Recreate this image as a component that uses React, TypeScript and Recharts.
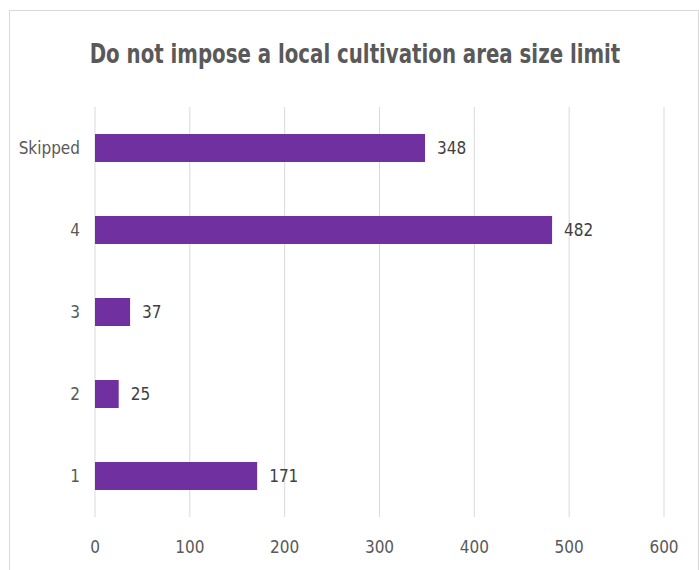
import React from "react";
import { BarChart, Bar, XAxis, YAxis, CartesianGrid, LabelList } from "recharts";

const title = "Do not impose a local cultivation area size limit";
const categories = ["Skipped", "4", "3", "2", "1"];
const counts = [348, 482, 37, 25, 171];
const xTicks = [0, 100, 200, 300, 400, 500, 600];

const data = categories.map((c, i) => ({ name: c, value: counts[i] }));

const FONT = "'Liberation Sans Narrow', 'DejaVu Sans Condensed', 'Liberation Sans', sans-serif";

export default function App() {
  return (
    <div style={{ position: "absolute", left: 0, top: 0, width: 699, height: 570, background: "#fff", overflow: "hidden" }}>
      <div
        style={{
          position: "absolute",
          left: 9,
          top: 10,
          width: 690,
          height: 600,
          border: "1px solid #d9d9d9",
          boxSizing: "border-box",
        }}
      />
      <svg width={699} height={90} style={{ position: "absolute", left: 0, top: 0 }}>
        <text
          x={0}
          y={0}
          transform="translate(355,63) scale(1,1.22)"
          textAnchor="middle"
          fontFamily={FONT}
          fontWeight="bold"
          fontSize={22}
          fill="#595959"
        >
          {title}
        </text>
      </svg>
      <div style={{ position: "absolute", left: 0, top: 0 }}>
        <BarChart
          width={699}
          height={570}
          data={data}
          layout="vertical"
          margin={{ top: 107, right: 35, bottom: 23, left: 0 }}
          barCategoryGap={0}
        >
          <CartesianGrid horizontal={false} stroke="#d9d9d9" strokeWidth={1} />
          <XAxis
            type="number"
            domain={[0, 600]}
            ticks={xTicks}
            axisLine={false}
            tickLine={false}
            tickSize={0}
            tickMargin={24}
            height={30}
            interval={0}
            tick={{ fill: "#595959", fontSize: 17, fontFamily: FONT }}
          />
          <YAxis
            type="category"
            dataKey="name"
            width={95}
            axisLine={false}
            tickLine={false}
            tickSize={0}
            tickMargin={15}
            tick={{ fill: "#595959", fontSize: 17, fontFamily: FONT }}
          />
          <Bar dataKey="value" fill="#7030A0" barSize={28} isAnimationActive={false}>
            <LabelList
              dataKey="value"
              position="right"
              offset={12}
              fill="#404040"
              fontSize={17}
              fontFamily={FONT}
            />
          </Bar>
        </BarChart>
      </div>
    </div>
  );
}
